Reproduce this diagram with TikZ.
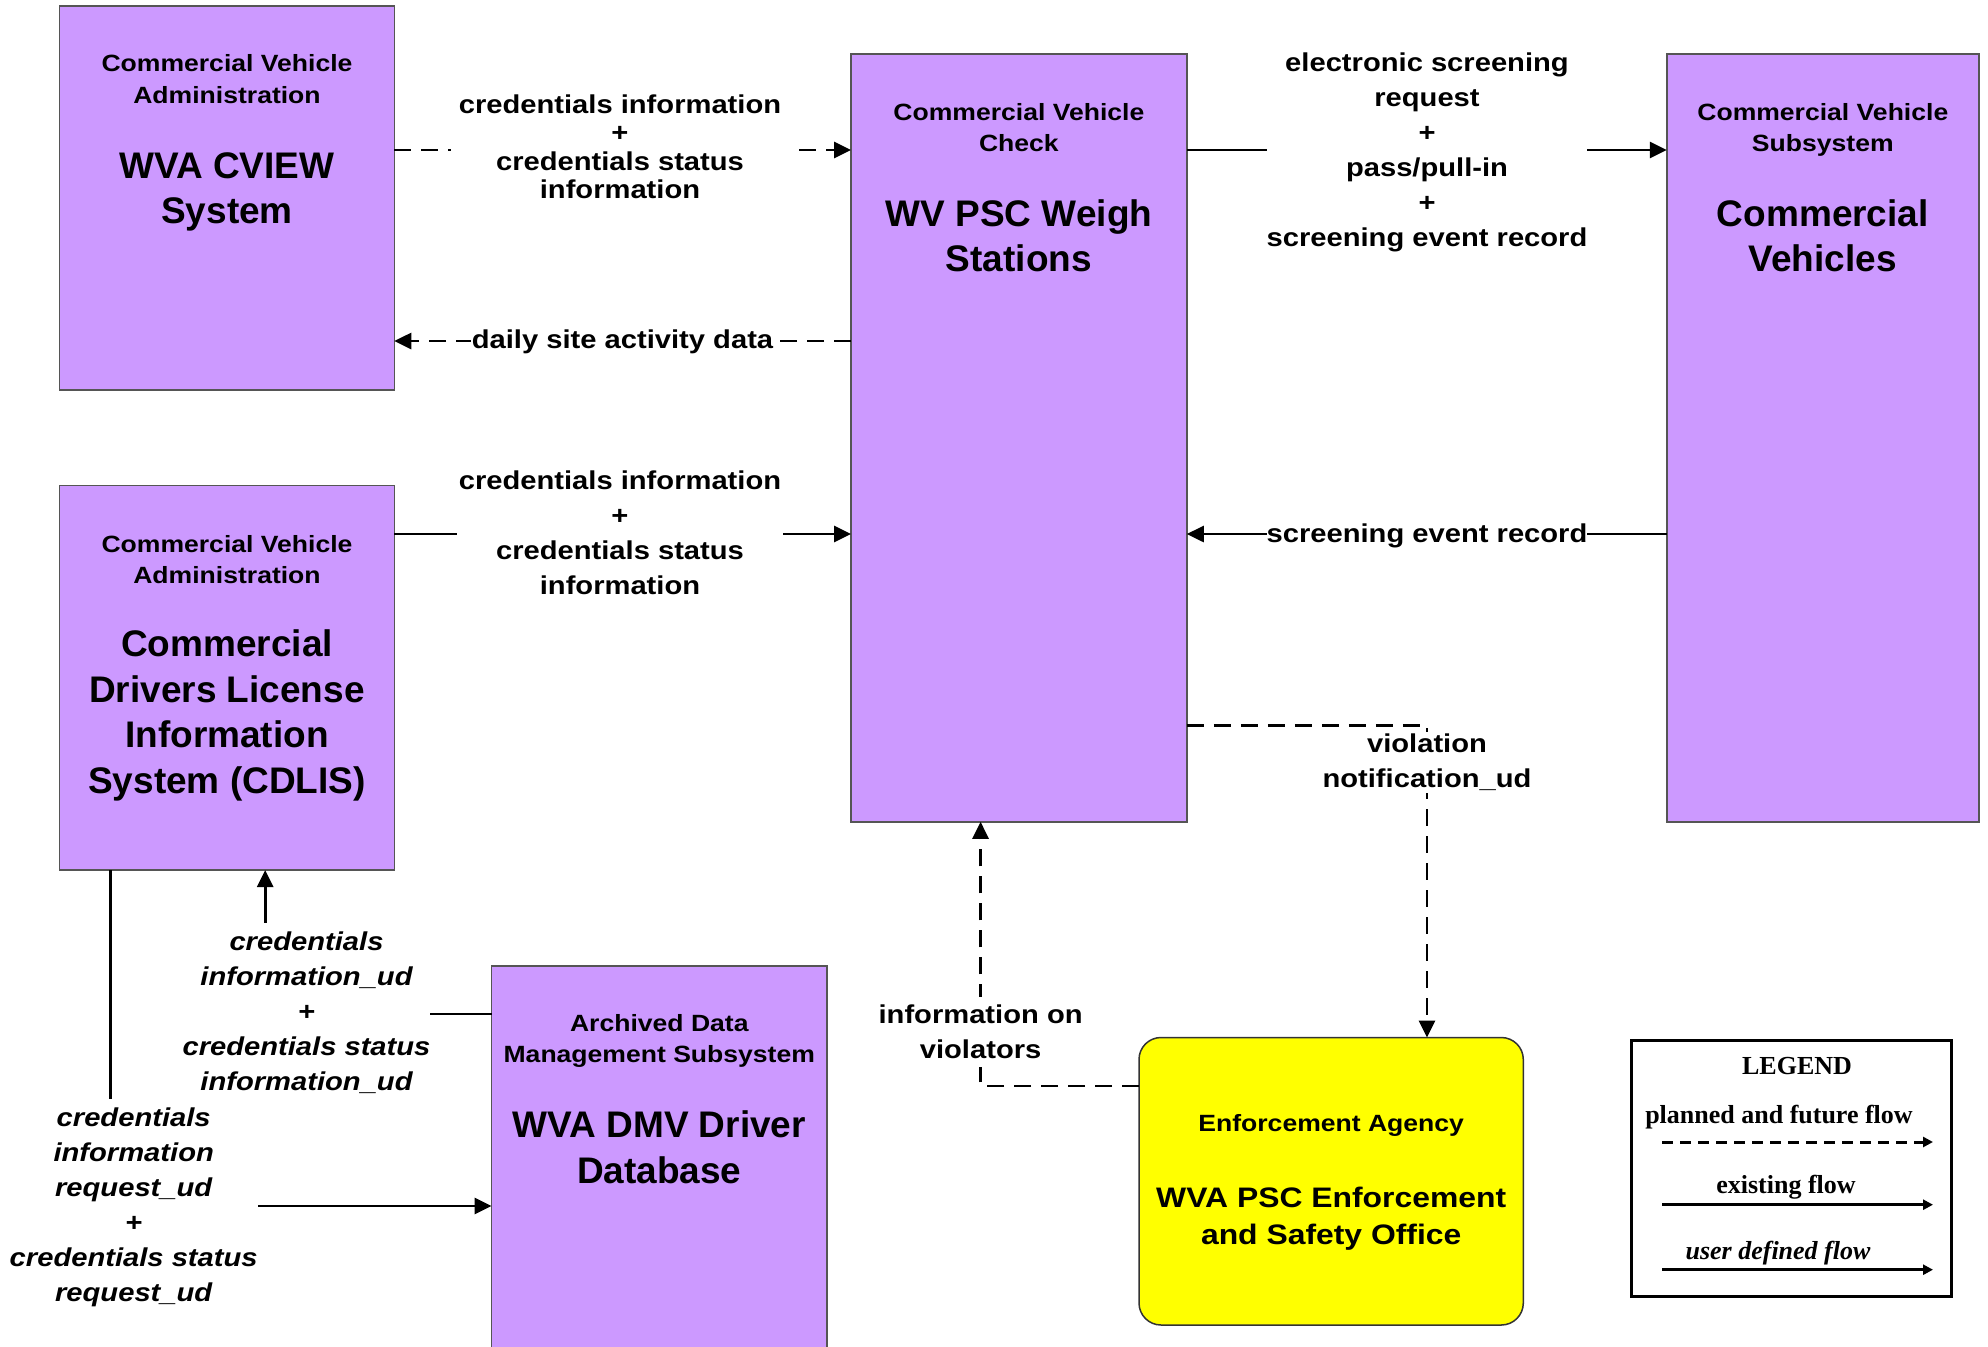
\documentclass[tikz,border=0pt]{standalone}
\usepackage{fontspec}
\setmainfont{Liberation Sans}
\newfontfamily\widefont[FakeStretch=1.13]{Liberation Sans}
\newfontfamily\legfont{Liberation Serif}
\usetikzlibrary{arrows.meta}
\definecolor{purp}{HTML}{CC99FF}
\definecolor{yel}{HTML}{FFFF00}
\definecolor{bord}{HTML}{555555}
\begin{document}
\begin{tikzpicture}[x=1pt,y=-1pt,
  box/.style={draw=bord, line width=1.5pt, fill=purp, inner sep=0pt, outer sep=0pt, anchor=north west},
  hdr/.style={font=\widefont\bfseries\fontsize{23.5}{31.3}\selectfont, align=center, anchor=base, inner sep=0pt},
  ttl/.style={font=\bfseries\fontsize{37}{45.5}\selectfont, align=center, anchor=base, inner sep=0pt},
  enft/.style={font=\widefont\bfseries\fontsize{28.2}{37}\selectfont, align=center, anchor=base, inner sep=0pt},
  lbl/.style={font=\widefont\bfseries\fontsize{25.8}{35}\selectfont, align=center, anchor=base, fill=white, inner sep=2pt},
  lbltight/.style={lbl, font=\widefont\bfseries\fontsize{25.8}{28.5}\selectfont},
  ital/.style={lbl, font=\widefont\bfseries\itshape\fontsize{25.8}{35}\selectfont},
  flow/.style={line width=2.8pt, -{Triangle[length=17pt,width=16pt]}},
  dflow/.style={flow, dash pattern=on 17pt off 10pt},
  lgtext/.style={font=\legfont\bfseries\fontsize{26}{30}\selectfont, anchor=base, inner sep=0pt},
  lgarrow/.style={line width=3pt, -{Triangle[length=10pt,width=10pt]}}
]
\useasboundingbox (0,0) rectangle (1988,1346);

% boxes
\node[box, minimum width=334.8pt, minimum height=384pt] (cview) at (59.5,6) {};
\node[box, minimum width=334.8pt, minimum height=384.5pt] (cdlis) at (59.5,485.5) {};
\node[box, minimum width=335.8pt, minimum height=767.8pt] (psc) at (851,54) {};
\node[box, minimum width=312pt, minimum height=767.8pt] (cvs) at (1666.8,54) {};
\node[box, minimum width=335.5pt, minimum height=400pt] (dmv) at (491.5,966) {};
\node[box, fill=yel, draw=black!80, rounded corners=22pt, minimum width=384.3pt, minimum height=287.5pt] (enf) at (1139,1037.5) {};
\node[draw=black, line width=3pt, inner sep=0pt, outer sep=0pt, anchor=north west, minimum width=320pt, minimum height=256pt] (legend) at (1631,1040) {};

% box texts (anchor=base is the last line's baseline)
\node[hdr] (cviewh) at (227,103.1) {Commercial Vehicle\\Administration};
\node[ttl] (cviewt) at (227,223.5) {WVA CVIEW\\System};
\node[hdr] (psch) at (1018.9,151.3) {Commercial Vehicle\\Check};
\node[ttl] (psct) at (1018.9,271.8) {WV PSC Weigh\\Stations};
\node[hdr] (cvsh) at (1822.8,151.3) {Commercial Vehicle\\Subsystem};
\node[ttl] (cvst) at (1822.8,271.8) {Commercial\\Vehicles};
\node[hdr] (cdlish) at (227,583.6) {Commercial Vehicle\\Administration};
\node[ttl] (cdlist) at (227,793) {Commercial\\Drivers License\\Information\\System (CDLIS)};
\node[hdr] (dmvh) at (659.3,1062.9) {Archived Data\\Management Subsystem};
\node[ttl] (dmvt) at (659.3,1183) {WVA DMV Driver\\Database};
\node[hdr] (enfh) at (1331.2,1131.8) {Enforcement Agency};
\node[enft] (enftt) at (1331.2,1244.5) {WVA PSC Enforcement\\and Safety Office};

% connectors
\draw[dflow] (cview.east |- 0,150) -- (psc.west |- 0,150);
\draw[dflow] (psc.west |- 0,341) -- (cview.east |- 0,341);
\draw[flow] (cdlis.east |- 0,534) -- (psc.west |- 0,534);
\draw[flow] (psc.east |- 0,150) -- (cvs.west |- 0,150);
\draw[flow] (cvs.west |- 0,534) -- (psc.east |- 0,534);
\draw[dflow] (psc.east |- 0,725.5) -| (enf.north -| 1427,0);
\draw[dflow] (enf.west |- 0,1086) -| (psc.south -| 980.6,0);
\draw[flow] (dmv.west |- 0,1014) -| (cdlis.south -| 265.2,0);
\draw[flow] (cdlis.south -| 110.2,0) |- (dmv.west |- 0,1206);

% connector labels
\node[lbltight, inner xsep=8pt] (l1) at (620,198.5) {credentials information\\+\\credentials status\\information};
\node[lbl, inner xsep=1pt] (l2) at (622.5,348.5) {daily site activity data};
\node[lbl] (l3) at (620,594) {credentials information\\+\\credentials status\\information};
\node[lbl, inner xsep=0pt] (l4) at (1427,246) {electronic screening\\request\\+\\pass/pull-in\\+\\screening event record};
\node[lbl, inner xsep=0pt] (l5) at (1427,542.7) {screening event record};
\node[lbl] (l6) at (1427,787.5) {violation\\notification\_ud};
\node[lbl, inner ysep=8pt] (l7) at (980.6,1058.5) {information on\\violators};
\node[ital, inner xsep=0pt, inner ysep=8pt] (l8) at (306.5,1090) {credentials\\information\_ud\\+\\credentials status\\information\_ud};
\node[ital, inner xsep=0pt, inner ysep=8pt] (l9) at (133.7,1301) {credentials\\information\\request\_ud\\+\\credentials status\\request\_ud};

% legend
\node[lgtext] (lgt) at (1797,1074.7) {LEGEND};
\node[lgtext] (lg1) at (1779,1123) {planned and future flow};
\node[lgtext] (lg2) at (1786,1193) {existing flow};
\node[lgtext, font=\legfont\bfseries\itshape\fontsize{26}{30}\selectfont] (lg3) at (1778,1259.7) {user defined flow};
\coordinate (a1s) at (1662,1142); \coordinate (a1e) at (1933,1142);
\coordinate (a2s) at (1662,1204.7); \coordinate (a2e) at (1933,1204.7);
\coordinate (a3s) at (1662,1269.7); \coordinate (a3e) at (1933,1269.7);
\draw[lgarrow, dash pattern=on 11pt off 7pt] (a1s) -- (a1e);
\draw[lgarrow] (a2s) -- (a2e);
\draw[lgarrow] (a3s) -- (a3e);
\end{tikzpicture}
\end{document}
